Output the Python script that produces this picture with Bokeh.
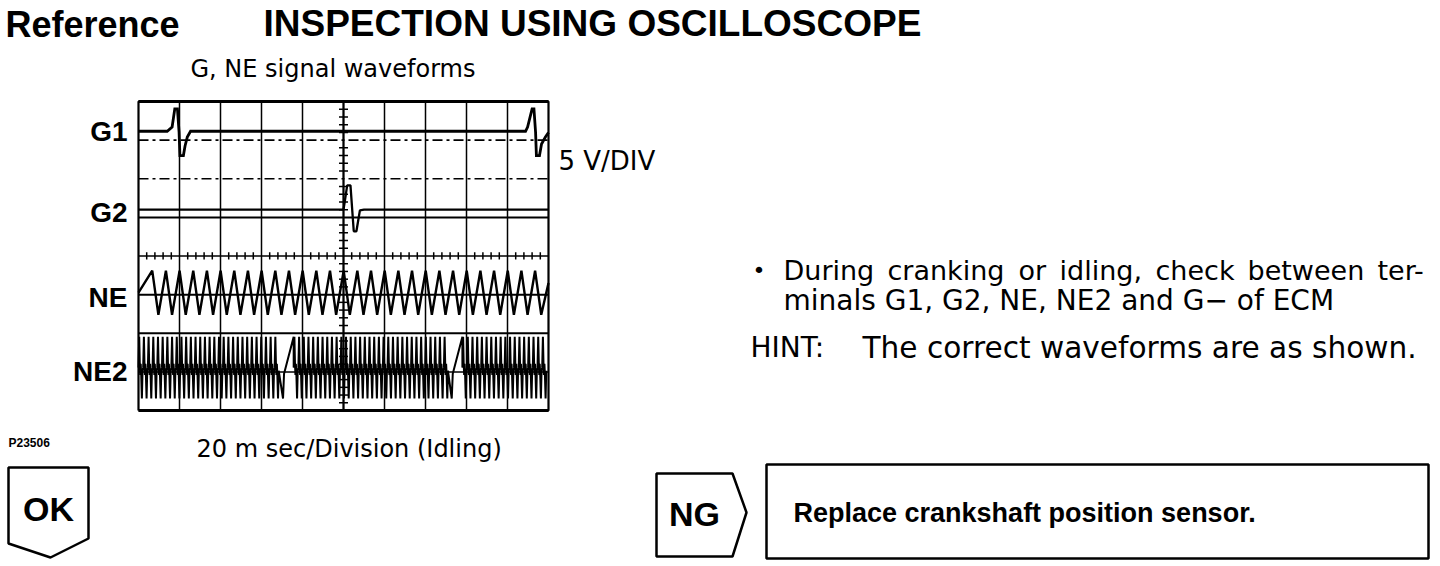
import numpy as np
from bokeh.plotting import figure
from bokeh.models import Range1d
from bokeh.core.properties import value
from bokeh.embed import file_html
from bokeh.resources import INLINE

# ---------------- scope settings ----------------
T_DIV_MS = 20          # 20 m sec / division
N_TDIV = 10
N_VDIV = 8

# ---------------- waveform data (ms, divisions from bottom) ----------------
g1_t = [0, 14.0, 16.4, 17.7, 19.0, 19.8, 20.2, 21.9, 22.7, 23.8, 25.4,
        188.8, 189.8, 192.0, 192.9, 193.7, 194.1, 195.6, 196.6, 198.5, 200]
g1_v = [7.23, 7.23, 7.34, 7.81, 7.81, 7.20, 6.60, 6.60, 6.85, 7.08, 7.23,
        7.23, 7.34, 7.81, 7.81, 7.20, 6.60, 6.60, 6.90, 7.08, 7.20]

g2_t = [0, 100.0, 100.6, 101.8, 103.4, 105.0, 106.3, 108.0, 110.0, 200]
g2_v = [5.20, 5.20, 5.40, 5.83, 5.83, 4.64, 4.64, 5.18, 5.20, 5.20]

ne_period_ms = 6.67
ne_first_peak_ms = 6.7
ne_top, ne_bottom = 3.62, 2.48

ne2_tooth_ms = 2.29
ne2_gap_start_ms = [70.7, 153.0]
ne2_gap_len_ms = 5.0
ne2_top, ne2_bottom = 1.91, 0.31

trace_labels = ["G1", "G2", "NE", "NE2"]
trace_label_div = [7.22, 5.13, 2.93, 1.01]

# ---------------- page geometry (pixels of the page) ----------------
PAGE_W, PAGE_H = 1440, 566
SCOPE_L, SCOPE_R, SCOPE_T, SCOPE_B = 138, 548, 101, 410   # page px

ms_per_px = N_TDIV * T_DIV_MS / (SCOPE_R - SCOPE_L)
div_per_px = N_VDIV / (SCOPE_B - SCOPE_T)
X0 = (0 - SCOPE_L) * ms_per_px
X1 = (PAGE_W - SCOPE_L) * ms_per_px
Y0 = (SCOPE_B - PAGE_H) * div_per_px
Y1 = (SCOPE_B - 0) * div_per_px

p = figure(width=PAGE_W, height=PAGE_H, x_range=Range1d(X0, X1), y_range=Range1d(Y0, Y1),
           x_axis_type=None, y_axis_type=None, output_backend="svg",
           toolbar_location=None, min_border=0)
p.grid.visible = False
p.outline_line_color = None
p.background_fill_color = "white"
p.border_fill_color = "white"
p.extra_x_ranges = {"page": Range1d(0, PAGE_W)}
p.extra_y_ranges = {"page": Range1d(PAGE_H, 0)}

TMAX = N_TDIV * T_DIV_MS

# ---------------- graticule ----------------
xs_major = [i * T_DIV_MS for i in range(1, N_TDIV)]
p.segment(x0=xs_major, y0=[0] * len(xs_major), x1=xs_major, y1=[N_VDIV] * len(xs_major),
          line_color="black", line_width=1.5)
p.segment(x0=[0, 0], y0=[7, 6], x1=[TMAX, TMAX], y1=[7, 6], line_color="black",
          line_width=1.6, line_dash="10 4 3 4")
p.segment(x0=[0, 0, 0], y0=[5, 3, 2], x1=[TMAX] * 3, y1=[5, 3, 2], line_color="black", line_width=2)
p.segment(x0=[0], y0=[4], x1=[TMAX], y1=[4], line_color="black", line_width=1.5)
p.segment(x0=[0], y0=[1], x1=[TMAX], y1=[1], line_color="black", line_width=1.5)
tick_x = [t for t in np.arange(0, TMAX + 0.01, T_DIV_MS / 5) if abs(t / T_DIV_MS - round(t / T_DIV_MS)) > 1e-6]
p.segment(x0=tick_x, y0=[3.91] * len(tick_x), x1=tick_x, y1=[4.1] * len(tick_x),
          line_color="black", line_width=1.5)
tick_y = [v for v in np.arange(0, N_VDIV + 0.01, 0.2) if abs(v - round(v)) > 1e-6]
cx = TMAX / 2
p.segment(x0=[cx - 2.2] * len(tick_y), y0=tick_y, x1=[cx + 2.2] * len(tick_y), y1=tick_y,
          line_color="black", line_width=1.5)
p.segment(x0=[cx], y0=[0], x1=[cx], y1=[N_VDIV], line_color="black", line_width=2)
p.line(x=[0, TMAX, TMAX, 0, 0], y=[0, 0, N_VDIV, N_VDIV, 0], line_color="black", line_width=2.2)
p.segment(x0=[0, 0], y0=[0, N_VDIV], x1=[TMAX, TMAX], y1=[0, N_VDIV], line_color="black", line_width=3)

# ---------------- traces ----------------
p.line(x=g1_t, y=g1_v, line_color="black", line_width=2.8, line_join="miter")
p.line(x=g2_t, y=g2_v, line_color="black", line_width=2.3)

# NE teeth
ne_x, ne_y = [0.0], [ne_bottom + 0.5 * (ne_top - ne_bottom)]
pk = ne_first_peak_ms
while pk - ne_period_ms * 0.55 < TMAX:
    ne_x += [pk, pk + ne_period_ms * 0.45]
    ne_y += [ne_top, ne_bottom]
    pk += ne_period_ms
ne_x = np.array(ne_x)
ne_y = np.array(ne_y)
mask = ne_x <= TMAX
p.line(x=list(ne_x[mask]) + [TMAX], y=list(ne_y[mask]) + [3.3], line_color="black", line_width=2.4)

# NE2 dense teeth with missing-tooth gaps
mid = 0.5 * (ne2_top + ne2_bottom)
amp = ne2_top - ne2_bottom
shape_f = [0.0, 0.15, 0.27, 0.37, 0.47, 0.57, 0.72, 0.86]
shape_v = [mid, ne2_top, mid + 0.08 * amp, mid - 0.12 * amp, mid + 0.06 * amp,
           mid - 0.10 * amp, ne2_bottom, mid - 0.05 * amp]
n2x, n2y = [], []
starts = [0.0] + [g + ne2_gap_len_ms for g in ne2_gap_start_ms]
ends = ne2_gap_start_ms + [TMAX]
for s, e in zip(starts, ends):
    t = s
    while t + ne2_tooth_ms <= e + 1e-6:
        for f, v in zip(shape_f, shape_v):
            n2x.append(t + f * ne2_tooth_ms)
            n2y.append(v)
        t += ne2_tooth_ms
    if e < TMAX:
        n2x += [e - 0.2, e + 0.3, e + ne2_gap_len_ms]
        n2y += [ne2_bottom, mid - 0.1 * amp, ne2_top]
p.line(x=n2x, y=n2y, line_color="black", line_width=2.0)

p.text(x=[127] * 4, y=trace_label_div, text=trace_labels, x_range_name="page",
       text_font=value("Liberation Sans"), text_font_style="bold", text_font_size="28px",
       text_align="right", text_baseline="middle", text_color="black")

# ---------------- page texts ----------------
def label(x, y, txt, size, bold=False, align="left", font="DejaVu Sans"):
    p.text(x=[x], y=[y], text=[txt], x_range_name="page", y_range_name="page",
           text_font=value(font), text_font_style="bold" if bold else "normal",
           text_font_size=f"{size}px", text_align=align, text_baseline="middle",
           text_color="black")

label(5, 24, "Reference", 36, bold=True, font="Liberation Sans")
label(263, 23, "INSPECTION USING OSCILLOSCOPE", 37, bold=True, font="Liberation Sans")
label(190, 68, "G, NE signal waveforms", 24)
label(558, 160, "5 V/DIV", 26)
label(8, 442, "P23506", 12, bold=True, font="Liberation Sans")
label(196, 448, "20 m sec/Division (Idling)", 24)

label(752, 270, "\u2022", 22)
words1 = ["During", "cranking", "or", "idling,", "check", "between", "ter-"]
words1_x = [783, 887, 1018, 1059, 1155, 1247, 1377]
for w, x in zip(words1, words1_x):
    label(x, 270, w, 27)
label(783, 300, "minals G1, G2, NE, NE2 and G\u2212 of ECM", 28)
label(750, 347, "HINT:", 28)
label(862, 347, "The correct waveforms are as shown.", 29.6)

# ---------------- OK / NG boxes ----------------
p.patch(x=[8, 88, 88, 50, 8], y=[467, 467, 538, 557, 543], x_range_name="page", y_range_name="page",
        fill_color="white", line_color="black", line_width=2.5)
label(48, 508, "OK", 34, bold=True, align="center", font="Liberation Sans")

p.patch(x=[656, 732, 746, 732, 656], y=[473, 473, 512, 556, 556], x_range_name="page", y_range_name="page",
        fill_color="white", line_color="black", line_width=2.5)
label(694, 513, "NG", 34, bold=True, align="center", font="Liberation Sans")

p.patch(x=[766, 1428, 1428, 766], y=[464, 464, 558, 558], x_range_name="page", y_range_name="page",
        fill_color="white", line_color="black", line_width=2.5)
label(793, 512, "Replace crankshaft position sensor.", 27, bold=True, font="Liberation Sans")

open("out.html", "w").write(file_html(p, INLINE))
